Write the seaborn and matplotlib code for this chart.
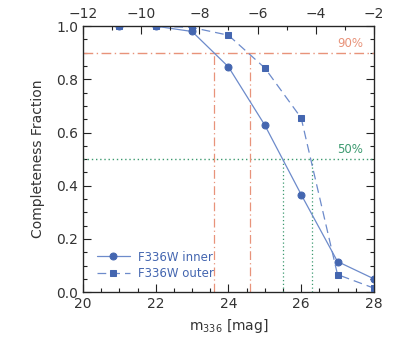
import numpy as np
import pandas as pd
import seaborn as sns
import matplotlib
matplotlib.use("Agg")
import matplotlib.pyplot as plt
from matplotlib.ticker import MultipleLocator

# Data
mag = [21, 22, 23, 24, 25, 26, 27, 28]
inner = [1.0, 1.0, 0.98, 0.847, 0.628, 0.367, 0.115, 0.05]
outer = [1.0, 1.0, 0.995, 0.966, 0.843, 0.655, 0.066, 0.015]
labels = ["F336W inner", "F336W outer"]
lim90 = [23.6, 24.6]
lim50 = [25.5, 26.3]

sns.set_style("ticks")
plt.rcParams['font.family'] = ['DejaVu Sans']
plt.rcParams['text.color'] = '#333333'

blue = '#4466b0'
lightblue = '#6d8bcb'
orange = '#e8937a'
green = '#3d9a70'

df = pd.DataFrame({
    'mag': mag * 2,
    'frac': inner + outer,
    'set': [labels[0]] * len(mag) + [labels[1]] * len(mag),
})

fig = plt.figure(figsize=(3.99, 3.49), dpi=100)
ax = fig.add_axes([0.208, 0.163, 0.729, 0.762])

sns.lineplot(data=df, x='mag', y='frac', style='set', markers=['o', 's'],
             dashes=[(None, None), (7, 4)], color=lightblue, lw=0.9, markersize=5,
             markerfacecolor=blue, markeredgecolor=blue, ax=ax, legend=True, zorder=5)

dashdot = (0, (7, 2.5, 1, 2.5))
ax.plot([20, 28], [0.9, 0.9], color=orange, lw=1.0, ls=dashdot, zorder=1, snap=True)
ax.plot([20, 28], [0.5, 0.5], color=green, lw=1.0, ls=(0, (1, 2)), zorder=1, snap=True)
for v in lim90:
    ax.plot([v, v], [0, 0.9], color=orange, lw=0.9, ls=dashdot, zorder=1)
for v in lim50:
    ax.plot([v, v], [0, 0.5], color=green, lw=0.9, ls=(0, (1, 2)), zorder=1)
ax.text(27.7, 0.91, '90%', color=orange, fontsize=8.5, ha='right', va='bottom')
ax.text(27.7, 0.51, '50%', color=green, fontsize=8.5, ha='right', va='bottom')

ax.set_xlim(20, 28)
ax.set_ylim(0, 1.0)
ax.xaxis.set_major_locator(MultipleLocator(2))
ax.xaxis.set_minor_locator(MultipleLocator(0.5))
ax.yaxis.set_major_locator(MultipleLocator(0.2))
ax.yaxis.set_minor_locator(MultipleLocator(0.05))
ax.tick_params(which='both', direction='in', top=False, right=True, colors='#222222',
               labelcolor='#333333', labelsize=10)
ax.tick_params(which='major', length=6, width=0.8)
ax.tick_params(which='minor', length=3, width=0.8)
ax.set_xlabel('m$_{336}$ [mag]', fontsize=10, color='#333333')
ax.set_ylabel('Completeness Fraction', fontsize=10, color='#333333', labelpad=8)
for s in ax.spines.values():
    s.set_linewidth(0.9)
    s.set_color('#222222')

ax2 = ax.twiny()
ax2.set_xlim(-12, -2)
ax2.xaxis.set_major_locator(MultipleLocator(2))
ax2.xaxis.set_minor_locator(MultipleLocator(1))
ax2.tick_params(which='both', direction='in', colors='#222222', labelcolor='#333333', labelsize=10)
ax2.tick_params(which='major', length=6, width=0.8)
ax2.tick_params(which='minor', length=3, width=0.8)

leg = ax.legend(loc='lower left', bbox_to_anchor=(0.01, 0.005), frameon=False, fontsize=8.5,
                handlelength=2.8, handletextpad=0.7, labelspacing=0.3, labelcolor=blue)
fig.savefig('out.png', dpi=100)
